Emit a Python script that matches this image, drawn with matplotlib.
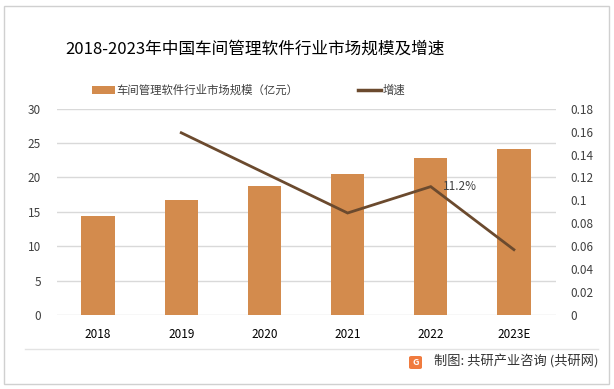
import matplotlib
matplotlib.use("Agg")
import matplotlib.pyplot as plt
from matplotlib.patches import Rectangle, Patch, FancyBboxPatch
from matplotlib.lines import Line2D

plt.rcParams['font.family'] = ['Noto Sans CJK SC', 'DejaVu Sans']

years = ["2018", "2019", "2020", "2021", "2022", "2023E"]
market_size = [14.4, 16.7, 18.8, 20.5, 22.9, 24.2]
growth_years = ["2019", "2020", "2021", "2022", "2023E"]
growth_rate = [0.159, 0.124, 0.089, 0.112, 0.057]
left_ticks = [0, 5, 10, 15, 20, 25, 30]
right_ticks = [0, 0.02, 0.04, 0.06, 0.08, 0.1, 0.12, 0.14, 0.16, 0.18]
right_labels = ["0", "0.02", "0.04", "0.06", "0.08", "0.1", "0.12", "0.14", "0.16", "0.18"]

title = "2018-2023年中国车间管理软件行业市场规模及增速"
bar_label = "车间管理软件行业市场规模（亿元）"
line_label = "增速"
source = "制图: 共研产业咨询 (共研网)"

bar_color = "#D38B4D"
line_color = "#6B4A2E"
grid_color = "#D9D9D9"
text_color = "#404040"

W, H = 614, 389
fig = plt.figure(figsize=(W / 100, H / 100), dpi=100)
fig.patch.set_facecolor("white")

ax = fig.add_axes([56.5 / W, (H - 315) / H, 499 / W, 206.3 / H])
x = list(range(len(years)))
ax.bar(x, market_size, width=0.4, color=bar_color, zorder=2)
ax.set_xlim(-0.5, len(years) - 0.5)
ax.set_ylim(0, 30)
ax.set_yticks(left_ticks)
ax.set_xticks(x)
ax.set_xticklabels(years)
ax.yaxis.grid(True, color=grid_color, lw=1)
ax.set_axisbelow(True)
for s in ax.spines.values():
    s.set_visible(False)
ax.tick_params(axis='both', length=0, labelsize=8.5, colors=text_color)
ax.tick_params(axis='x', pad=9, labelcolor="#000000")
ax.tick_params(axis='y', pad=11)

ax2 = ax.twinx()
gx = [years.index(g) for g in growth_years]
ax2.plot(gx, growth_rate, color=line_color, lw=2.0, zorder=3, solid_joinstyle='miter')
ax2.set_ylim(0, 0.18)
ax2.set_yticks(right_ticks)
ax2.set_yticklabels(right_labels)
for s in ax2.spines.values():
    s.set_visible(False)
ax2.tick_params(axis='y', length=0, labelsize=8.5, colors=text_color, pad=11)

i22 = growth_years.index("2022")
ax2.annotate(f"{growth_rate[i22]*100:.1f}%", (gx[i22], growth_rate[i22]),
             xytext=(9, 0), textcoords='offset points', ha='left', va='center',
             fontsize=8.5, color=text_color)

fig.text(254.5 / W, 1 - 49 / H, title, ha='center', va='center', fontsize=12, color="#000000")

handles = [Patch(facecolor=bar_color, edgecolor='none'),
           Line2D([0], [0], color=line_color, lw=2.5)]
fig.legend(handles, [bar_label, line_label], loc='center', ncol=2,
           bbox_to_anchor=(248.5 / W, 1 - 90 / H), frameon=False, fontsize=8.2,
           handlelength=2.0, handleheight=0.7, handletextpad=0.1, columnspacing=5.3,
           labelcolor=text_color)

# separator and border
fig.add_artist(Line2D([25 / W, 598 / W], [1 - 349 / H, 1 - 349 / H], color="#E3E3E3", lw=1))
fig.add_artist(Rectangle((4 / W, 1 - 384 / H), 605 / W, 378 / H, fill=False,
                         edgecolor="#D0D0D0", lw=1))

# footer
fig.add_artist(FancyBboxPatch((409 / W, 1 - 369 / H), 13 / W, 13 / H,
                              boxstyle="round,pad=0,rounding_size=0.004",
                              facecolor="#F07B3F", edgecolor='none'))
fig.text(415.5 / W, 1 - 362.5 / H, "G", ha='center', va='center', fontsize=6.5,
         color='white', fontweight='bold')
fig.text(598 / W, 1 - 362 / H, source, ha='right', va='center', fontsize=9.5,
         color="#333333")

fig.savefig("out.png", dpi=100)
